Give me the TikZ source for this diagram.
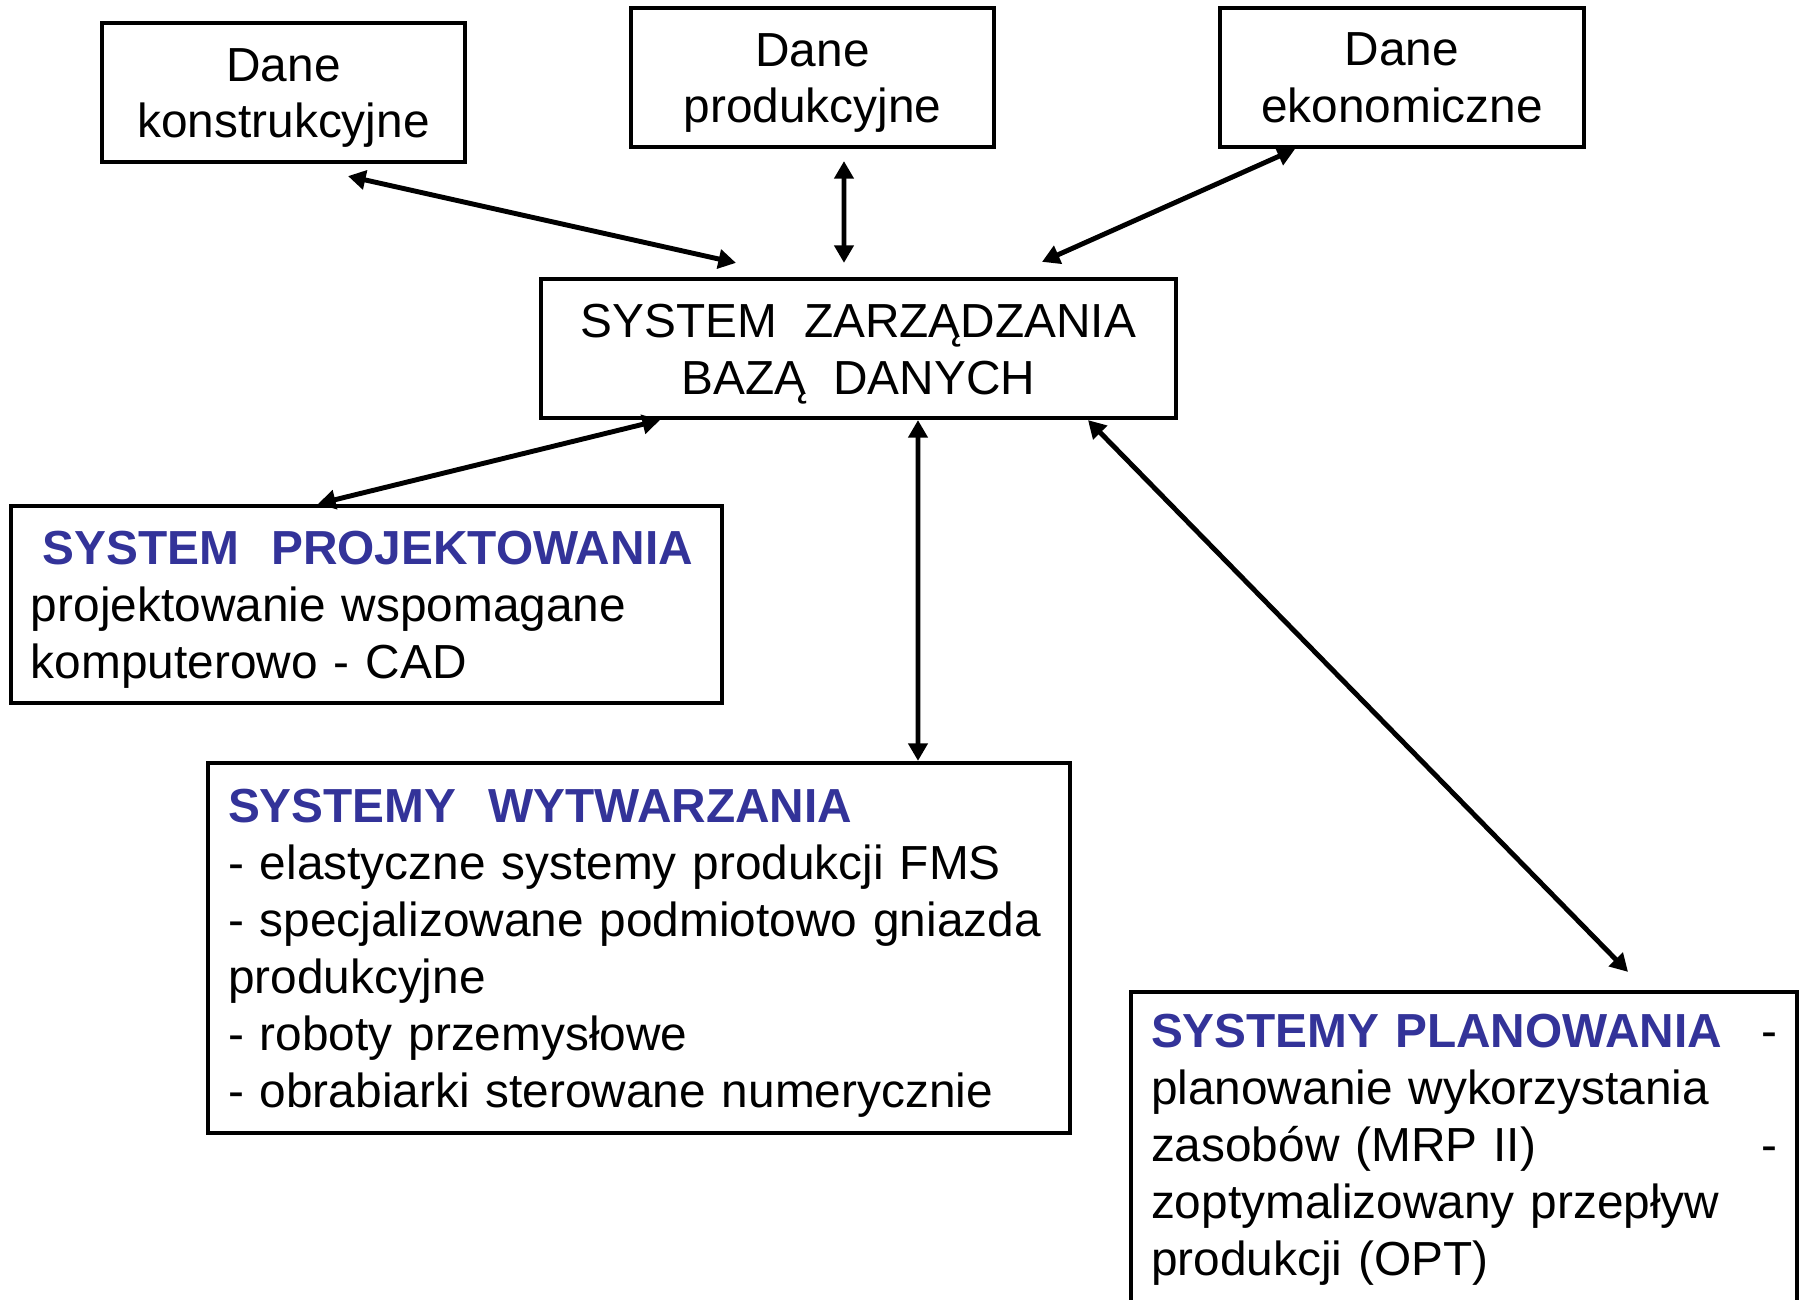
\documentclass[tikz,border=0pt]{standalone}
\usepackage{fontspec}
\setmainfont{Liberation Sans}
\usetikzlibrary{arrows.meta}
\definecolor{tytul}{RGB}{51,51,153}
\newcommand\tyt[1]{{\color{tytul}\bfseries #1}}
\newcommand\gora{\rule{0pt}{12.5pt}}

\begin{document}
\begin{tikzpicture}[font=\fontsize{13.6}{16.2}\selectfont,
    box/.style={draw, line width=1.2pt, inner sep=0pt, minimum height=1.39cm},
    dwu/.style={{Triangle[length=5pt,width=5.4pt]}-{Triangle[length=5pt,width=5.4pt]}, line width=1.4pt}]
  \useasboundingbox (0,0) rectangle (18,-13);
  % dane wejsciowe
  \node[box, minimum width=3.63cm, align=center] (kon) at (2.835,-0.925) {\gora Dane\\konstrukcyjne};
  \node[box, minimum width=3.63cm, align=center] (pro) at (8.125,-0.775) {\gora Dane\\produkcyjne};
  \node[box, minimum width=3.64cm, align=center] (eko) at (14.02,-0.775) {\gora Dane\\ekonomiczne\rule[-2.9pt]{0pt}{0pt}};
  % baza danych
  \node[box, minimum width=6.35cm, align=center] (baza) at (8.585,-3.485) {\gora SYSTEM\ \ ZARZĄDZANIA\\BAZĄ\ \ DANYCH};
  % podsystemy
  \node[box, minimum width=7.11cm, minimum height=1.97cm, inner xsep=0.2cm, text width=6.71cm, align=left] (proj) at (3.665,-6.045)
    {\gora\hspace*{0.12cm}\tyt{SYSTEM\ \ PROJEKTOWANIA}\\projektowanie wspomagane\\komputerowo - CAD};
  \node[box, minimum width=8.62cm, minimum height=3.70cm, inner xsep=0.2cm, text width=8.22cm, align=left] (wyt) at (6.39,-9.48)
    {\gora\tyt{SYSTEMY\ \ WYTWARZANIA}\\- elastyczne systemy produkcji FMS\\- specjalizowane podmiotowo gniazda\\produkcyjne\\- roboty przemysłowe\\- obrabiarki sterowane numerycznie};
  \node[box, minimum width=6.66cm, minimum height=3.16cm, inner xsep=0.2cm, text width=6.26cm, align=left] (plan) at (14.64,-11.50)
    {\tyt{SYSTEMY PLANOWANIA}\hfill -\\planowanie wykorzystania\\zasobów (MRP II)\hfill -\\zoptymalizowany przepływ\\produkcji (OPT)};
  % polaczenia
  \draw[dwu] ([shift={(0.645,-0.12)}]kon.south) -- ([shift={(-1.225,0.14)}]baza.north);
  \draw[dwu] ([shift={(0.315,-0.12)}]pro.south) -- ([shift={(-0.145,0.14)}]baza.north);
  \draw[dwu] ([xshift=-1.07cm]eko.south) -- ([shift={(1.835,0.15)}]baza.north);
  \draw[dwu] ([xshift=-1.985cm]baza.south) -- ([xshift=-0.485cm]proj.north);
  \draw[dwu] ([xshift=0.595cm]baza.south) -- ([xshift=2.79cm]wyt.north);
  \draw[dwu] ([xshift=2.295cm]baza.south) -- ([shift={(1.64,0.18)}]plan.north);
\end{tikzpicture}
\end{document}
